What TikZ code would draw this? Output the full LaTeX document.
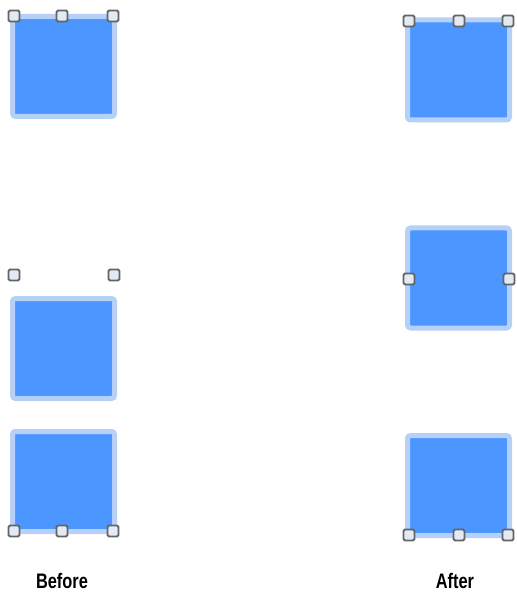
\documentclass[tikz,border=0pt]{standalone}
\usepackage{fontspec}
\setmainfont{Liberation Sans}[FakeStretch=0.78]
\usepackage{tikz}
\usetikzlibrary{positioning,calc}
\definecolor{boxblue}{RGB}{76,150,255}
\definecolor{boxedge}{RGB}{182,208,248}
\definecolor{handlegray}{RGB}{98,100,104}
\definecolor{handlefill}{RGB}{228,234,242}

\tikzset{
  shapebox/.style={draw=boxedge, line width=5pt, fill=boxblue, rounded corners=3pt,
    minimum width=102pt, minimum height=100pt, inner sep=0pt},
  handle/.style={draw=handlegray, line width=1.9pt, fill=handlefill, rounded corners=1.5pt,
    minimum size=11pt, inner sep=0pt},
  caption/.style={font=\fontsize{21}{25}\selectfont\bfseries, inner sep=0pt}
}

\begin{document}
\begin{tikzpicture}[x=1pt, y=-1pt]
\useasboundingbox (0,0) rectangle (516,593);

% before
\node[shapebox] (bTop) at (63.5,66.5) {};
\node[handle] (bTopL) at (14,16) {};
\node[handle] (bTopM) at (62,16) {};
\node[handle] (bTopR) at (113,16) {};

\node[shapebox] (bMid) at (63.5,348.5) {};
\node[handle] (bMidL) at (14,275) {};
\node[handle] (bMidR) at (114,275) {};

\node[shapebox] (bBot) at (63.5,481.5) {};
\node[handle] (bBotL) at (14,531) {};
\node[handle] (bBotM) at (62,531) {};
\node[handle] (bBotR) at (113,531) {};

\node[caption] (before) at (62,581) {Before};

% after
\node[shapebox] (aTop) at (458.5,70) {};
\node[handle] (aTopL) at (409,21) {};
\node[handle] (aTopM) at (459,21) {};
\node[handle] (aTopR) at (508,21) {};

\node[shapebox] (aMid) at (458.5,278) {};
\node[handle] (aMidL) at (409,279) {};
\node[handle] (aMidR) at (509,279) {};

\node[shapebox] (aBot) at (458.5,485.5) {};
\node[handle] (aBotL) at (409,535) {};
\node[handle] (aBotM) at (459,535) {};
\node[handle] (aBotR) at (508,535) {};

\node[caption] (after) at (455,581) {After};
\end{tikzpicture}
\end{document}
